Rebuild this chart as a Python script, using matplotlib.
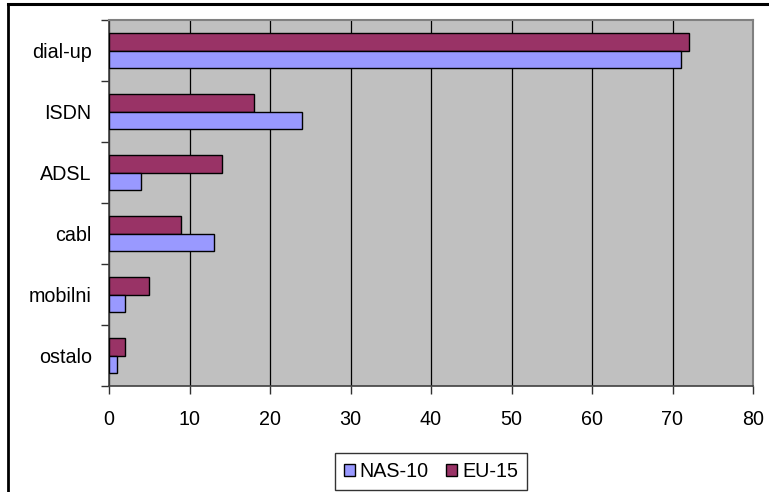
import matplotlib
matplotlib.use("Agg")
import matplotlib.pyplot as plt
from matplotlib.lines import Line2D
import numpy as np

plt.rcParams['font.family'] = ['Liberation Sans', 'DejaVu Sans']

categories = ["dial-up", "ISDN", "ADSL", "cabl", "mobilni", "ostalo"]
nas10 = [71, 24, 4, 13, 2, 1]
eu15 = [72, 18, 14, 9, 5, 2]
x_ticks = [0, 10, 20, 30, 40, 50, 60, 70, 80]

fig = plt.figure(figsize=(7.69, 4.92), dpi=100)
ax = fig.add_axes([109 / 769, 1 - 386 / 492, (753 - 109) / 769, (386 - 20) / 492])
ax.set_facecolor("#C0C0C0")

y = np.arange(len(categories))
h = 0.29
ax.barh(y - h / 2, eu15, height=h, color="#993366", edgecolor="black",
        linewidth=1.0, label="EU-15", zorder=3)
ax.barh(y + h / 2, nas10, height=h, color="#9999FF", edgecolor="black",
        linewidth=1.0, label="NAS-10", zorder=3)

ax.set_xlim(0, 80)
ax.set_ylim(len(categories) - 0.5, -0.5)
ax.set_xticks(x_ticks)
ax.set_xticklabels([str(v) for v in x_ticks])
ax.xaxis.grid(True, color="black", linewidth=0.9, zorder=1)
ax.set_axisbelow(True)

# category labels centred, tick marks on category boundaries
ax.set_yticks(y)
ax.set_yticklabels(categories)
ax.set_yticks(np.arange(-0.5, len(categories) + 0.5, 1.0), minor=True)
ax.tick_params(axis="y", which="major", length=0, pad=12.5, labelsize=14.2)
ax.tick_params(axis="y", which="minor", length=6, width=1.0, color="#303030")
ax.tick_params(axis="x", length=6, width=1.0, color="#303030", pad=11, labelsize=14.2)

for side in ["top", "right"]:
    ax.spines[side].set_color("#808080")
    ax.spines[side].set_linewidth(1.5)
for side in ["left", "bottom"]:
    ax.spines[side].set_color("#404040")
    ax.spines[side].set_linewidth(1.2)

handles, labels = ax.get_legend_handles_labels()
leg = fig.legend(handles[::-1], labels[::-1], loc="center",
                 bbox_to_anchor=(431 / 769, 1 - 471.5 / 492), ncol=2,
                 fontsize=14.2, frameon=True, fancybox=False, edgecolor="black",
                 handlelength=0.55, handleheight=0.55, handletextpad=0.25,
                 columnspacing=0.9, borderpad=0.45, borderaxespad=0)
leg.get_frame().set_linewidth(1.0)

# outer chart border
fig.add_artist(Line2D([8 / 769, 1.0], [1 - 4 / 492, 1 - 4 / 492],
                      transform=fig.transFigure, color="black", linewidth=2.2))
fig.add_artist(Line2D([8 / 769, 8 / 769], [0.0, 1 - 4 / 492],
                      transform=fig.transFigure, color="black", linewidth=2.0))

fig.savefig("out.png", dpi=100)
